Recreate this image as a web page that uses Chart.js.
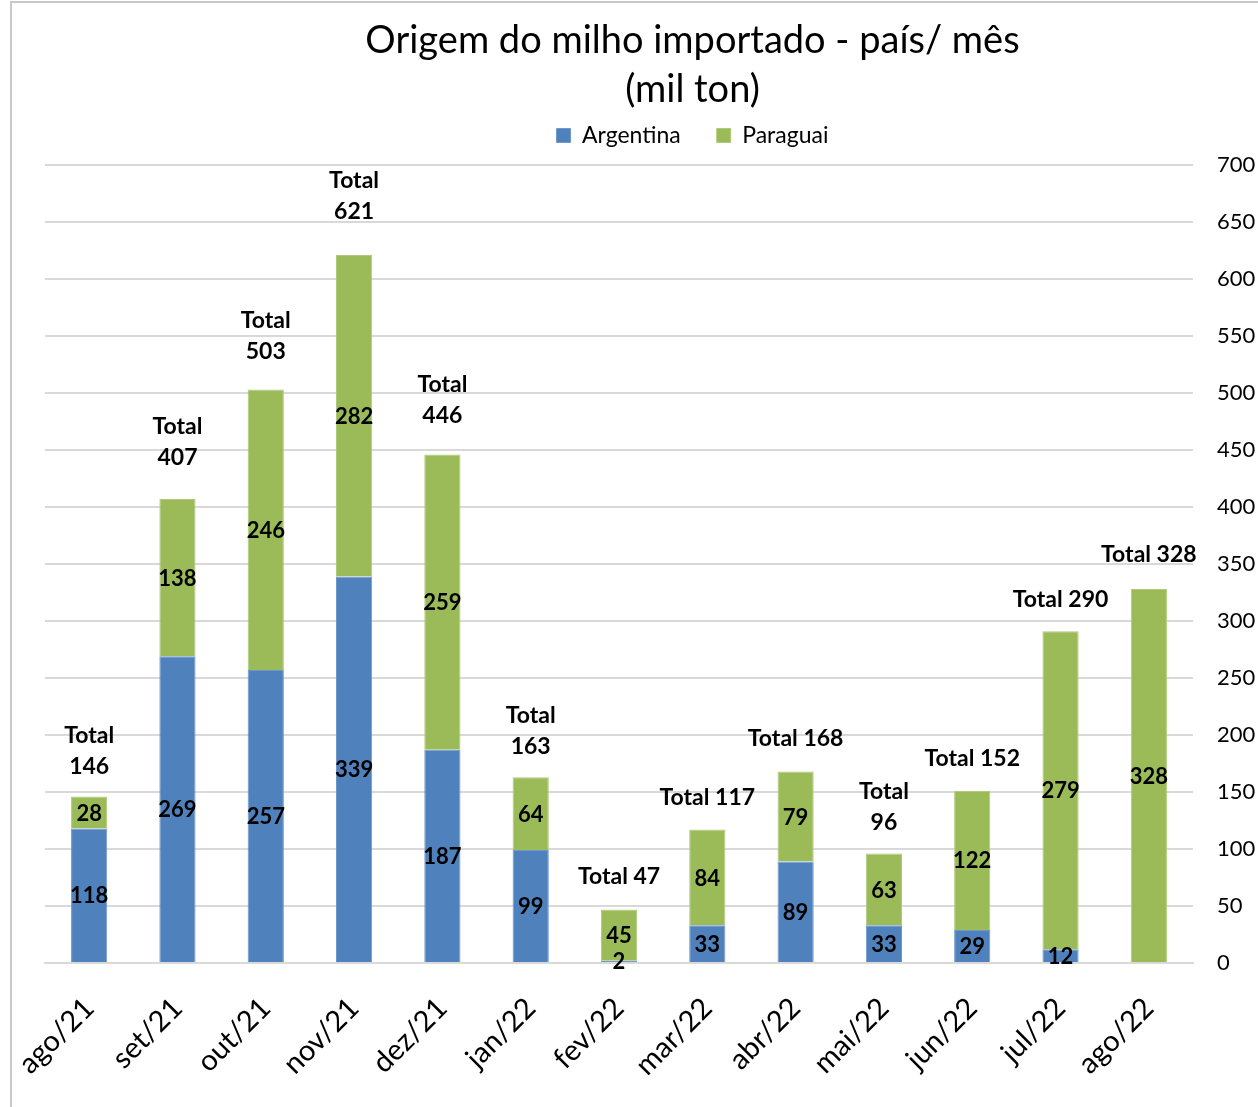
<!DOCTYPE html>
<html>
<head>
<meta charset="utf-8">
<script src="https://cdn.jsdelivr.net/npm/chart.js@4/dist/chart.umd.min.js"></script>
<style>
    html, body { margin: 0; padding: 0; background: #fff; }
</style>
</head>
<body>
<canvas id="myChart" width="1258" height="1107"></canvas>
<script>
const months = ['ago/21', 'set/21', 'out/21', 'nov/21', 'dez/21', 'jan/22', 'fev/22',
    'mar/22', 'abr/22', 'mai/22', 'jun/22', 'jul/22', 'ago/22'];
const argentina = [118, 269, 257, 339, 187, 99, 2, 33, 89, 33, 29, 12, 0];
const paraguai = [28, 138, 246, 282, 259, 64, 45, 84, 79, 63, 122, 279, 328];
const totals = [146, 407, 503, 621, 446, 163, 47, 117, 168, 96, 152, 290, 328];
const yTicks = [0, 50, 100, 150, 200, 250, 300, 350, 400, 450, 500, 550, 600, 650, 700];

// which "Total" labels wrap onto two lines, and how far above the bar they sit
const totalTwoLine = [true, true, true, true, true, true, false, false, false, true, false, false, false];
const totalLift = [30, 41, 38, 43, 39, 31, 33, 32, 33, 31, 32, 32, 34];

const FONT = 'Lato, "Open Sans", sans-serif';

const frame = {
    id: 'frame',
    beforeDraw(chart) {
        const ctx = chart.ctx;
        ctx.save();
        ctx.fillStyle = '#fff';
        ctx.fillRect(0, 0, chart.width, chart.height);
        ctx.strokeStyle = '#c8c8c8';
        ctx.lineWidth = 2;
        ctx.strokeRect(11, 2, chart.width + 10, chart.height + 10);
        ctx.restore();
    }
};

// title + legend sit a bit right of the plot centre in the original
const shiftHeader = {
    id: 'shiftHeader',
    afterLayout(chart) {
        const dx = 41;
        const t = chart.titleBlock;
        t.left += dx; t.right += dx;
        const lg = chart.legend;
        lg.left += dx; lg.right += dx;
        lg.top = 88; lg.bottom = 162;
    }
};

const barLabels = {
    id: 'barLabels',
    afterDatasetsDraw(chart) {
        const ctx = chart.ctx;
        ctx.save();
        ctx.fillStyle = '#000';
        ctx.textAlign = 'center';
        ctx.textBaseline = 'middle';
        ctx.font = 'bold 22px ' + FONT;
        chart.data.datasets.forEach((ds, di) => {
            const meta = chart.getDatasetMeta(di);
            meta.data.forEach((bar, i) => {
                const v = ds.data[i];
                if (!v) return;
                ctx.fillText(String(v), bar.x, (bar.y + bar.base) / 2 + 1);
            });
        });
        ctx.font = 'bold 23px ' + FONT;
        const top = chart.getDatasetMeta(1).data;
        top.forEach((bar, i) => {
            const y = bar.y - totalLift[i];
            if (totalTwoLine[i]) {
                ctx.fillText('Total', bar.x, y - 31);
                ctx.fillText(String(totals[i]), bar.x, y);
            } else {
                ctx.fillText('Total ' + totals[i], bar.x, y);
            }
        });
        ctx.restore();
    }
};

const ctx = document.getElementById('myChart').getContext('2d');
window.myChart = new Chart(ctx, {
    type: 'bar',
    data: {
        labels: months,
        datasets: [{
            label: 'Argentina',
            data: argentina,
            backgroundColor: '#4F81BD',
            borderColor: '#6f97c9',
            borderWidth: 1,
            categoryPercentage: 1,
            barPercentage: 0.41
        }, {
            label: 'Paraguai',
            data: paraguai,
            backgroundColor: '#9BBB59',
            borderColor: '#b0ca7c',
            borderWidth: 1,
            categoryPercentage: 1,
            barPercentage: 0.41
        }]
    },
    options: {
        responsive: false,
        animation: false,
        devicePixelRatio: 1,
        layout: { padding: { left: 45, right: 0, top: 12, bottom: 0 } },
        plugins: {
            title: {
                display: true,
                text: ['Origem do milho importado - país/ mês', '(mil ton)'],
                color: '#000',
                font: { family: FONT, size: 38, weight: 'normal', lineHeight: 1.3 },
                padding: { top: 4, bottom: 0 }
            },
            legend: {
                display: true,
                maxHeight: 50,
                labels: {
                    color: '#000',
                    font: { family: FONT, size: 23 },
                    boxWidth: 14,
                    boxHeight: 14,
                    padding: 36
                }
            },
            tooltip: { enabled: false }
        },
        scales: {
            x: {
                stacked: true,
                afterFit: scale => {
                    scale.height = 144;
                    scale.paddingLeft = 0;
                    scale.paddingRight = 0;
                },
                grid: { display: false, drawTicks: false },
                border: { display: true, color: '#d9d9d9', width: 2 },
                ticks: {
                    color: '#000',
                    font: { family: FONT, size: 29 },
                    maxRotation: 45,
                    minRotation: 45,
                    padding: 28
                }
            },
            y: {
                stacked: true,
                position: 'right',
                min: 0,
                max: 700,
                afterFit: scale => { scale.width = 65; },
                afterBuildTicks: scale => { scale.ticks = yTicks.map(v => ({ value: v })); },
                grid: { color: '#d9d9d9', lineWidth: 2, drawTicks: false },
                border: { display: false },
                ticks: {
                    color: '#000',
                    font: { family: FONT, size: 22 },
                    padding: 24
                }
            }
        }
    },
    plugins: [frame, shiftHeader, barLabels]
});
</script>
</body>
</html>
